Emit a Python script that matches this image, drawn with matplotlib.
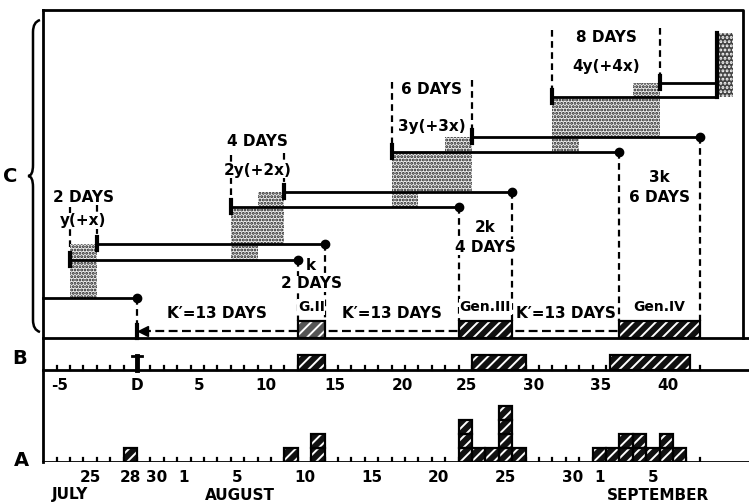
"""Emergence diagram: broods in the field (C), observed emergence (B) and catches (A)."""

import matplotlib
matplotlib.use("Agg")
import matplotlib.pyplot as plt
from matplotlib.path import Path
from matplotlib.patches import PathPatch, Rectangle

plt.rcParams["font.family"] = "DejaVu Sans"
plt.rcParams["font.weight"] = "bold"
plt.rcParams["hatch.linewidth"] = 1.4

# --- data ----------------------------------------------------------------------

# C: the four broods, x in days from D
gen_start = [-5, 7, 19, 31]
gen_len = [2, 4, 6, 8]
gen_days_label = ["2 DAYS", "4 DAYS", "6 DAYS", "8 DAYS"]
gen_yield_label = ["y(+x)", "2y(+2x)", "3y(+3x)", "4y(+4x)"]
lower_end = [12, 24, 36, 43.3]
upper_end = [14, 28, 42, 43.3]

# emergence of generations II-IV
emerge_start = [12, 24, 36]
emerge_end = [14, 28, 42]
emerge_label = ["G.II", "Gen.III", "Gen.IV"]
k_label = ["k", "2k", "3k"]
k_days = ["2 DAYS", "4 DAYS", "6 DAYS"]
k_prime = "K\u2032=13 DAYS"

# B: observed emergence, days from D
b_start = [12, 25, 35.3]
b_end = [14, 29, 41.3]
b_tick_pos = [-5.8, 0, 4.6, 9.6, 14.8, 19.8, 24.6, 29.6, 34.6, 39.6]
b_tick_lab = ["-5", "D", "5", "10", "15", "20", "25", "30", "35", "40"]

# A: catches per day, days after 28 July
a_day = [0, 12, 14, 25, 26, 27, 28, 29, 35, 36, 37, 38, 39, 40, 41]
a_count = [1, 1, 2, 3, 1, 1, 4, 1, 1, 1, 2, 2, 1, 2, 1]
a_tick_day = [-3, 0, 2, 4, 8, 13, 18, 23, 28, 33, 35, 39]
a_tick_lab = ["25", "28", "30", "1", "5", "10", "15", "20", "25", "30", "1", "5"]
months = ["JULY", "AUGUST", "SEPTEMBER"]
month_pos = [-5.0, 7.7, 38.9]

# --- layout (C and B drawn in a day / pixel-row frame) --------------------------

PX_D = 137.0
PX_DAY = 13.4
W, H = 749, 504
XMIN, XMAX = -PX_D / PX_DAY, (W - PX_D) / PX_DAY
X_LEFT, X_RIGHT = -7.0, 45.2

BASE_Y = 298
lower_y = [260, 207, 152, 97]
upper_y = [244, 192, 137, 83]
dash_top = [207, 155, 82, 30]
lab1_y = [197, 141, 89, 38]
lab2_y = [221, 170, 126, 66]
k_y = [266, 228, 177]
kd_y = [284, 247, 197]

Y_TOP, Y_CBOT, Y_B, Y_A = 10, 338, 370, 462
EM_TOP = 321

LW = 1.6
DASH = (0, (3, 2))
FS = 11
STIP = dict(facecolor="#ededed", edgecolor="#1a1a1a", hatch=".....", linewidth=0)
BLK = dict(facecolor="#111111", edgecolor="white", hatch="///", linewidth=0)
WBOX = dict(facecolor="white", edgecolor="none", pad=0.6)

fig = plt.figure(figsize=(W / 100, H / 100), dpi=100)
ax = fig.add_axes([0, 0, 1, 1])
ax.set_xlim(XMIN, XMAX)
ax.set_ylim(H, 0)
ax.axis("off")


def box(x0, x1, y0, y1, style, outline=False, z=2):
    ax.add_patch(Rectangle((x0, min(y0, y1)), x1 - x0, abs(y1 - y0), zorder=z, **style))
    if outline:
        ax.add_patch(Rectangle((x0, min(y0, y1)), x1 - x0, abs(y1 - y0), fill=False,
                               edgecolor="black", linewidth=LW, zorder=z + 0.1))


# frame
ax.plot([X_LEFT, X_RIGHT, X_RIGHT], [Y_TOP, Y_TOP, Y_CBOT], color="k", lw=2)
ax.plot([X_LEFT, X_LEFT], [Y_TOP, Y_A], color="k", lw=2)
ax.plot([X_LEFT, XMAX], [Y_CBOT, Y_CBOT], color="k", lw=2)
ax.plot([X_LEFT, XMAX], [Y_B, Y_B], color="k", lw=2)

# --- C -------------------------------------------------------------------------

ax.plot([X_LEFT, 0], [BASE_Y, BASE_Y], color="k", lw=2, zorder=3)
ax.plot([0], [BASE_Y], "o", color="k", ms=6, zorder=4)
ax.plot([0, 0], [BASE_Y, 325], color="k", lw=LW, ls=DASH)
ax.plot([0, 0], [325, Y_CBOT], color="k", lw=3)

for g in range(4):
    s = gen_start[g]
    e = s + gen_len[g]
    prev = BASE_Y if g == 0 else upper_y[g - 1]
    box(s, e, prev, lower_y[g], STIP)
    box(e - 2, e, lower_y[g], upper_y[g], STIP)
    if g > 0:
        box(s, s + 2, lower_y[g - 1], upper_y[g - 1], STIP)

    ax.plot([s, lower_end[g]], [lower_y[g], lower_y[g]], color="k", lw=2, zorder=3)
    ax.plot([e, upper_end[g]], [upper_y[g], upper_y[g]], color="k", lw=2, zorder=3)
    ax.plot([s, s], [lower_y[g] - 7, lower_y[g] + 6], color="k", lw=3, zorder=3)
    ax.plot([e, e], [upper_y[g] - 7, upper_y[g] + 6], color="k", lw=3, zorder=3)

    ax.plot([s, s], [dash_top[g], lower_y[g]], color="k", lw=LW, ls=DASH, zorder=1)
    ax.plot([e, e], [dash_top[g] - 2, upper_y[g]], color="k", lw=LW, ls=DASH, zorder=1)
    cx = s + gen_len[g] / 2
    ax.text(cx, lab1_y[g], gen_days_label[g], ha="center", va="center", fontsize=FS,
            bbox=WBOX, zorder=2)
    ax.text(cx, lab2_y[g], gen_yield_label[g], ha="center", va="center", fontsize=FS,
            bbox=WBOX, zorder=2)

    if g < 3:
        ax.plot([lower_end[g]], [lower_y[g]], "o", color="k", ms=6, zorder=4)
        ax.plot([upper_end[g]], [upper_y[g]], "o", color="k", ms=6, zorder=4)
        ax.plot([lower_end[g]] * 2, [lower_y[g], EM_TOP], color="k", lw=LW, ls=DASH, zorder=1)
        ax.plot([upper_end[g]] * 2, [upper_y[g], EM_TOP], color="k", lw=LW, ls=DASH, zorder=1)

# last brood runs into generation V
box(43.3, 44.5, 33, 97, dict(facecolor="#444444", edgecolor="white", hatch="....", linewidth=0))
ax.plot([43.3, 43.3], [33, 97], color="k", lw=3)

# dashed arrow back to D
ax.plot([0.35, emerge_start[-1]], [331, 331], color="k", lw=LW, ls=(0, (4, 2)), zorder=1)
ax.plot([0.45], [331], marker="<", color="k", ms=7, zorder=3)

for i in range(3):
    s, e = emerge_start[i], emerge_end[i]
    style = dict(BLK)
    if i == 0:
        style["facecolor"] = "#555555"
    box(s, e, EM_TOP, Y_CBOT, style, outline=True, z=3)
    c = (s + e) / 2
    ax.text(c, 307, emerge_label[i], ha="center", va="center", fontsize=10, bbox=WBOX, zorder=2)
    ax.text(c, k_y[i], k_label[i], ha="center", va="center", fontsize=FS, bbox=WBOX, zorder=2)
    ax.text(c, kd_y[i], k_days[i], ha="center", va="center", fontsize=FS, bbox=WBOX, zorder=2)
    prev_end = 0 if i == 0 else emerge_end[i - 1]
    ax.text((prev_end + s) / 2, 313, k_prime, ha="center", va="center", fontsize=FS)

# --- B -------------------------------------------------------------------------

for d in range(-6, 43):
    ax.plot([d, d], [Y_B, Y_B - 4], color="k", lw=1.6)
ax.plot([0, 0], [Y_B, Y_B - 14], color="k", lw=3.5)
ax.plot([-0.35, 0.35], [Y_B - 14, Y_B - 14], color="k", lw=2)
for s, e in zip(b_start, b_end):
    box(s, e, Y_B - 15, Y_B, BLK, outline=True, z=3)
for p, t in zip(b_tick_pos, b_tick_lab):
    ax.text(p, 385, t, ha="center", va="center", fontsize=FS)

# --- A -------------------------------------------------------------------------

ax_a = fig.add_axes([0, (H - Y_A) / H, 1, 70 / H])
ax_a.set_xlim(XMIN, XMAX)
ax_a.set_ylim(0, 5)
ax_a.axis("off")
ax_a.plot([X_LEFT, XMAX], [0, 0], color="k", lw=2)
for d in range(-6, 43):
    ax_a.plot([d, d], [0, 0.3], color="k", lw=1.6)
for d, n in zip(a_day, a_count):
    for j in range(n):
        ax_a.bar(d - 1, 1, bottom=j, width=1, align="edge", zorder=3, **BLK)
        ax_a.bar(d - 1, 1, bottom=j, width=1, align="edge", fill=False,
                 edgecolor="black", linewidth=LW, zorder=3.1)

for d, t in zip(a_tick_day, a_tick_lab):
    ax.text(d - 0.5, 477, t, ha="center", va="center", fontsize=FS)
for p, t in zip(month_pos, months):
    ax.text(p, 495, t, ha="center", va="center", fontsize=FS)

# --- panel letters and brace ----------------------------------------------------

deco = fig.add_axes([0, 0, 1, 1])
deco.set_xlim(0, W)
deco.set_ylim(H, 0)
deco.axis("off")
deco.text(10, 176, "C", ha="center", va="center", fontsize=14)
deco.text(20, 358, "B", ha="center", va="center", fontsize=14)
deco.text(21, 460, "A", ha="center", va="center", fontsize=14)
verts = [(40, 20), (33, 22), (33, 32), (33, 165), (33, 176), (28, 176),
         (33, 176), (33, 187), (33, 320), (33, 330), (40, 332)]
codes = [Path.MOVETO] + [Path.CURVE3] * 2 + [Path.LINETO] + [Path.CURVE3] * 2 + \
        [Path.CURVE3] * 2 + [Path.LINETO] + [Path.CURVE3] * 2
deco.add_patch(PathPatch(Path(verts, codes), fill=False, lw=1.8))

fig.savefig("out.png", dpi=100)
